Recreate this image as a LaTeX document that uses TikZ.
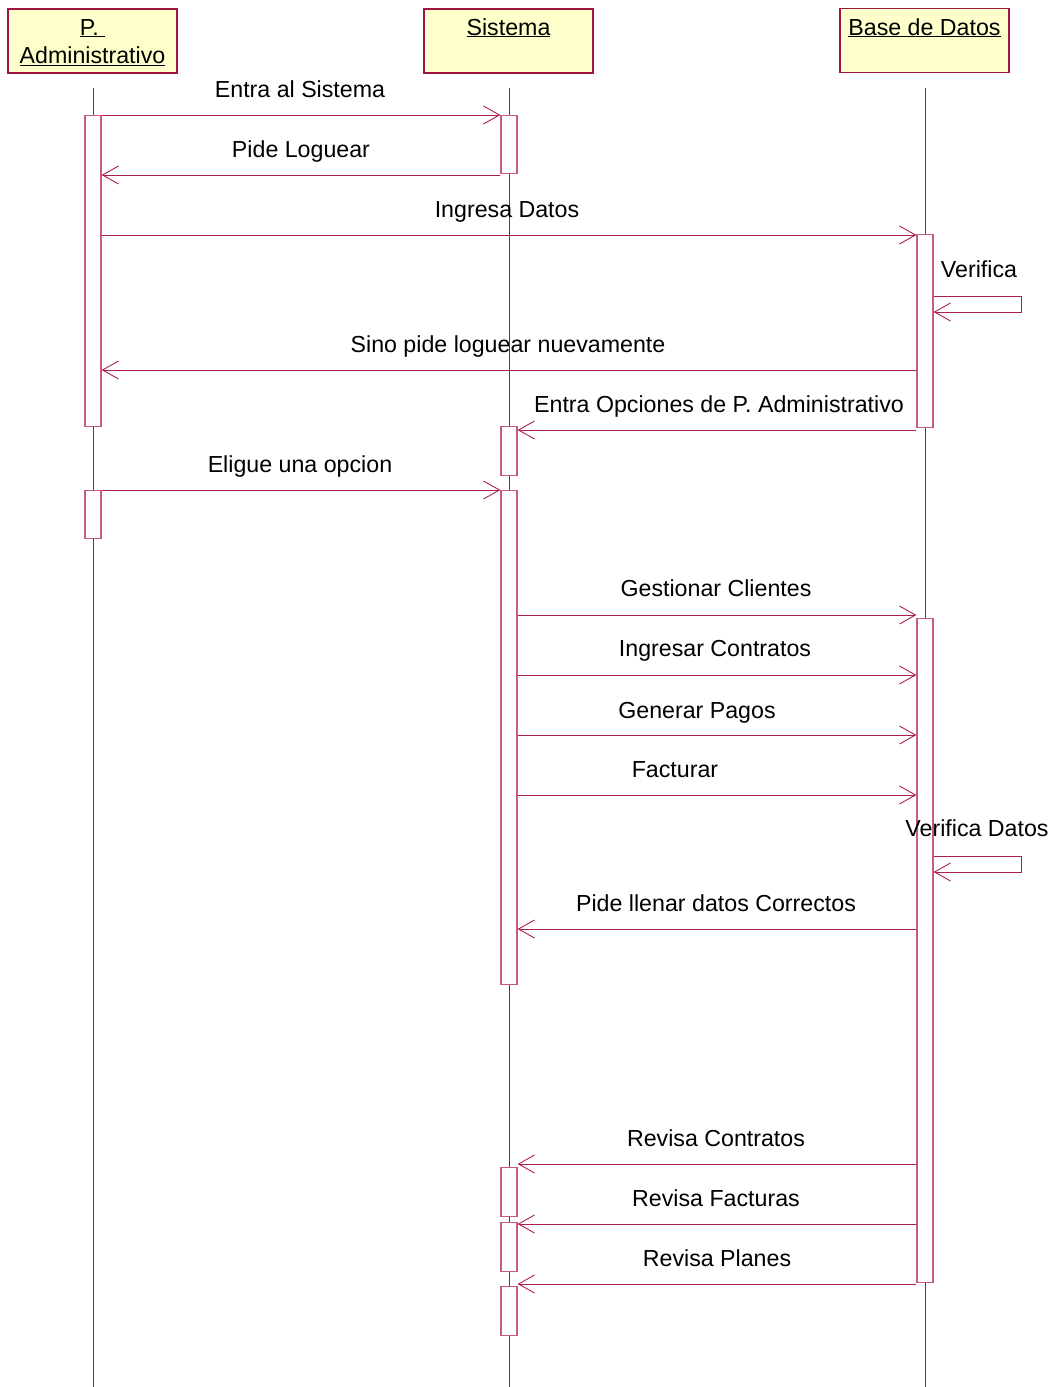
\documentclass[tikz,border=0pt]{standalone}
\usepackage{fontspec}
\setmainfont{Liberation Sans}
\usetikzlibrary{arrows.meta}
\definecolor{msgcol}{RGB}{170,30,80}
\definecolor{actcol}{RGB}{200,90,130}
\definecolor{headline}{RGB}{160,20,60}
\definecolor{headfill}{RGB}{255,255,204}
\definecolor{lifecol}{RGB}{70,70,70}
\begin{document}
\begin{tikzpicture}[x=1pt,y=-1pt,
  txt/.style={font=\fontsize{23.2}{28}\selectfont, inner sep=0pt},
  head/.style={draw=headline, fill=headfill, line width=1.1pt, minimum width=169pt, minimum height=64pt, inner sep=0pt},
  htext/.style={txt, align=center, anchor=north},
  life/.style={draw=lifecol, line width=0.9pt},
  act/.style={draw=actcol, fill=white, line width=1.2pt, minimum width=16pt, inner sep=0pt, anchor=north},
  msg/.style={draw=msgcol, line width=0.9pt, -{Straight Barb[length=16pt,width=18pt,line width=0.9pt]}},
  lbl/.style={txt, anchor=base}]
\useasboundingbox (0,0) rectangle (1054,1387);

% participants
\node[head] (hA) at (92.5,41) {};
\node[head] (hS) at (508.5,41) {};
\node[head] (hB) at (924.5,40.5) {};
\node[htext] (tA) at (92.5,19) {\underline{P.~}\\\underline{Administrativo}};
\node[lbl] (tS) at (508.5,35) {\underline{Sistema}};
\node[lbl] (tB) at (924.5,35) {\underline{Base de Datos}};

% lifelines
\coordinate (lA0) at (93,88);  \coordinate (lA1) at (93,1387);
\coordinate (lS0) at (509,88); \coordinate (lS1) at (509,1387);
\coordinate (lB0) at (925,88); \coordinate (lB1) at (925,1387);
\draw[life] (lA0) -- (lA1);
\draw[life] (lS0) -- (lS1);
\draw[life] (lB0) -- (lB1);

% activations
\node[act, minimum height=311pt] (a1) at (93,115) {};
\node[act, minimum height=48pt]  (a2) at (93,490) {};
\node[act, minimum height=58pt]  (s1) at (509,115) {};
\node[act, minimum height=49pt]  (s2) at (509,426) {};
\node[act, minimum height=494pt] (s3) at (509,490) {};
\node[act, minimum height=49pt]  (s4) at (509,1167) {};
\node[act, minimum height=49pt]  (s5) at (509,1222) {};
\node[act, minimum height=49pt]  (s6) at (509,1286) {};
\node[act, minimum height=193pt] (b1) at (925,234) {};
\node[act, minimum height=664pt] (b2) at (925,618) {};

% message levels
\coordinate (m1) at (0,115);
\coordinate (m2) at (0,175);
\coordinate (m3) at (0,235);
\coordinate (v1) at (0,296);
\coordinate (v1r) at (0,312);
\coordinate (m5) at (0,370);
\coordinate (m6) at (0,430);
\coordinate (m7) at (0,490);
\coordinate (m8) at (0,615);
\coordinate (m9) at (0,675);
\coordinate (m10) at (0,735);
\coordinate (m11) at (0,795);
\coordinate (v2) at (0,856);
\coordinate (v2r) at (0,872);
\coordinate (m13) at (0,929);
\coordinate (m14) at (0,1164);
\coordinate (m15) at (0,1224);
\coordinate (m16) at (0,1284);

% messages
\draw[msg] (a1.east |- m1) -- (s1.west |- m1);
\draw[msg] (s1.west |- m2) -- (a1.east |- m2);
\draw[msg] (a1.east |- m3) -- (b1.west |- m3);
\draw[msg] (b1.east |- v1) -- ++(88,0) -- ++(0,16) -- (b1.east |- v1r);
\draw[msg] (b1.west |- m5) -- (a1.east |- m5);
\draw[msg] (b1.west |- m6) -- (s2.east |- m6);
\draw[msg] (a2.east |- m7) -- (s3.west |- m7);
\draw[msg] (s3.east |- m8) -- (b2.west |- m8);
\draw[msg] (s3.east |- m9) -- (b2.west |- m9);
\draw[msg] (s3.east |- m10) -- (b2.west |- m10);
\draw[msg] (s3.east |- m11) -- (b2.west |- m11);
\draw[msg] (b2.east |- v2) -- ++(88,0) -- ++(0,16) -- (b2.east |- v2r);
\draw[msg] (b2.west |- m13) -- (s3.east |- m13);
\draw[msg] (b2.west |- m14) -- (s4.east |- m14);
\draw[msg] (b2.west |- m15) -- (s5.east |- m15);
\draw[msg] (b2.west |- m16) -- (s6.east |- m16);

% message labels
\node[lbl] at (300,97) {Entra al Sistema};
\node[lbl] at (301,157) {Pide Loguear};
\node[lbl] at (507,217) {Ingresa Datos};
\node[lbl] at (979,277) {Verifica};
\node[lbl] at (508,352) {Sino pide loguear nuevamente};
\node[lbl] at (719,412) {Entra Opciones de P. Administrativo};
\node[lbl] at (300,472) {Eligue una opcion};
\node[lbl] at (716,596) {Gestionar Clientes};
\node[lbl] at (715,656) {Ingresar Contratos};
\node[lbl] at (697,718) {Generar Pagos};
\node[lbl] at (675,777) {Facturar};
\node[lbl] at (977,836) {Verifica Datos};
\node[lbl] at (716,911) {Pide llenar datos Correctos};
\node[lbl] at (716,1146) {Revisa Contratos};
\node[lbl] at (716,1206) {Revisa Facturas};
\node[lbl] at (717,1266) {Revisa Planes};
\end{tikzpicture}
\end{document}
